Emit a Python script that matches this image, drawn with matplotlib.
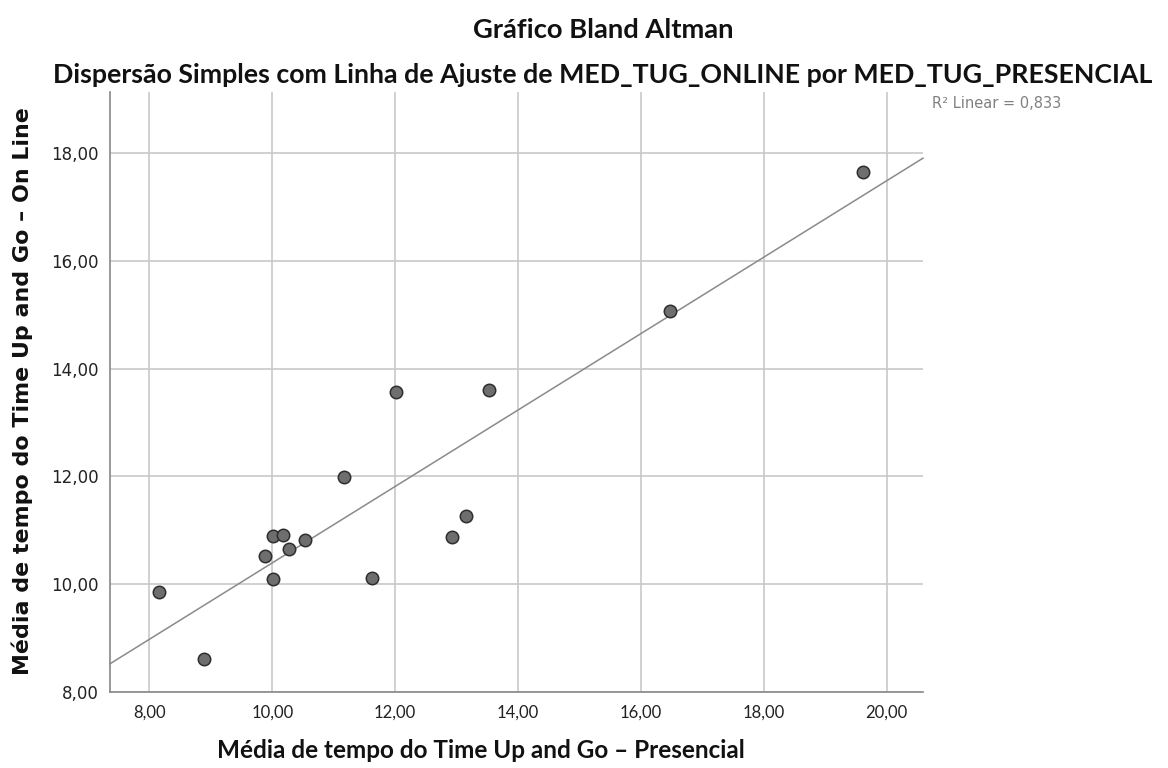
import numpy as np
import matplotlib
matplotlib.use("Agg")
import matplotlib.pyplot as plt

presencial = [8.16, 8.89, 9.89, 10.01, 10.17, 10.27, 10.54, 10.02, 11.62, 11.17,
              12.01, 12.92, 13.16, 13.53, 16.47, 19.61]
online = [9.86, 8.62, 10.52, 10.90, 10.91, 10.66, 10.82, 10.09, 10.12, 11.98,
          13.57, 10.87, 11.26, 13.60, 15.06, 17.64]
x_ticks = [8, 10, 12, 14, 16, 18, 20]
y_ticks = [8, 10, 12, 14, 16, 18]
tick_labels_x = ["8,00", "10,00", "12,00", "14,00", "16,00", "18,00", "20,00"]
tick_labels_y = ["8,00", "10,00", "12,00", "14,00", "16,00", "18,00"]

W, H = 1168, 768
fig = plt.figure(figsize=(W / 100, H / 100), dpi=100)
ax = fig.add_axes([110 / W, 1 - 692 / H, (923 - 110) / W, (692 - 92) / H])

xlim = (7.36, 20.59)
ylim = (8.0, 19.13)
ax.set_xlim(*xlim)
ax.set_ylim(*ylim)

ax.set_xticks(x_ticks)
ax.set_xticklabels(tick_labels_x)
ax.set_yticks(y_ticks)
ax.set_yticklabels(tick_labels_y)
ax.tick_params(length=0, colors="#222222")
ax.tick_params(axis="x", pad=9)
ax.tick_params(axis="y", labelsize=12, pad=8)
for lab in ax.get_xticklabels():
    lab.set_family("Lato")
    lab.set_fontsize(12)
for lab in ax.get_yticklabels():
    lab.set_family("DejaVu Sans")

ax.grid(True, color="#c8c8c8", linewidth=1.2)
ax.set_axisbelow(True)
for s in ["top", "right"]:
    ax.spines[s].set_visible(False)
for s in ["left", "bottom"]:
    ax.spines[s].set_color("#888888")
    ax.spines[s].set_linewidth(1.2)

x = np.array(presencial)
y = np.array(online)
slope, intercept = np.polyfit(x, y, 1)
xs = np.array(xlim)
ax.plot(xs, slope * xs + intercept, color="#8a8a8a", linewidth=1.1, zorder=2, clip_on=False)

ax.scatter(x, y, s=80, facecolor="#6e6e6e", edgecolor="#2e2e2e", linewidth=1.1, zorder=3)

fig.text(932 / W, 1 - 104 / H, "R² Linear = 0,833", fontsize=10.5, color="#808080",
         family="DejaVu Sans", va="center", ha="left")

fig.text(603 / W, 1 - 30 / H, "Gráfico Bland Altman", fontsize=19.7, fontweight="bold",
         family="Lato", ha="center", va="center", color="#111111")
fig.text(603 / W, 1 - 75 / H,
         "Dispersão Simples com Linha de Ajuste de MED_TUG_ONLINE por MED_TUG_PRESENCIAL",
         fontsize=19.3, fontweight="bold", family="Lato", ha="center", va="center", color="#111111")
fig.text(481 / W, 1 - 750 / H, "Média de tempo do Time Up and Go – Presencial",
         fontsize=17.5, fontweight="bold", family="Lato", ha="center", va="center", color="#111111")
fig.text(22 / W, 1 - 391 / H, "Média de tempo do Time Up and Go – On Line",
         fontsize=15.9, fontweight="bold", family="DejaVu Sans", ha="center", va="center",
         rotation=90, color="#111111")

fig.savefig("out.png", dpi=100)
